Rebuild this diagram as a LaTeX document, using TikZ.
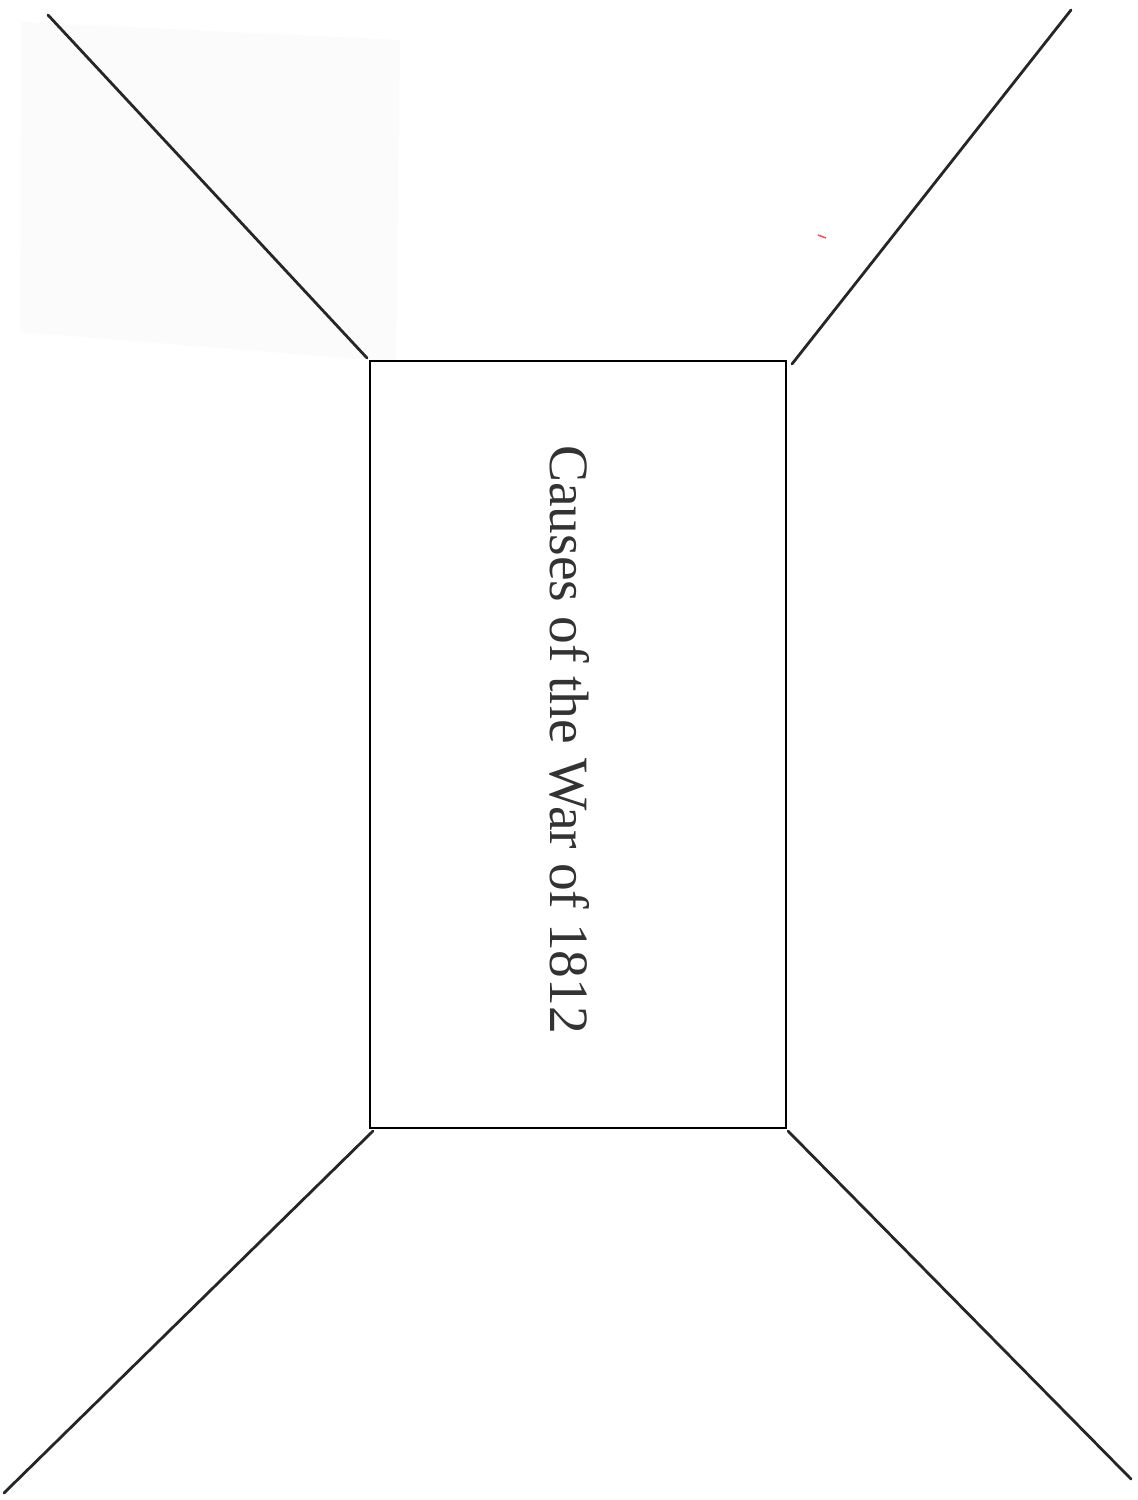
\documentclass[tikz,border=0pt]{standalone}
\usepackage{fontspec}
\setmainfont{Liberation Serif}
\begin{document}
\begin{tikzpicture}[x=1pt,y=-1pt,
  boxline/.style={draw=black, line width=2pt},
  wall/.style={draw=black!85, line width=2.8pt, line cap=round},
  title/.style={rotate=-90, anchor=base west, inner sep=0pt, text=black!80,
    font=\fontsize{55.5pt}{60pt}\selectfont}]
\useasboundingbox (0,0) rectangle (1138,1500);
% faint scanned patch
\fill[black!1.5] (22,22) -- (400,40) -- (396,362) -- (20,332) -- cycle;
% centre panel
\node[boxline, rectangle, inner sep=0pt, minimum width=416pt, minimum height=767pt] (box) at (577.5,744) {};
% wall edges
\coordinate (etl) at (48,15);
\coordinate (etr) at (1071,10);
\coordinate (ebl) at (4,1493);
\coordinate (ebr) at (1131,1479);
\coordinate (stl) at (367,358);
\coordinate (str) at (792,364);
\coordinate (sbl) at (373,1131);
\coordinate (sbr) at (788,1131);
\draw[wall] (etl) -- (stl);
\draw[wall] (etr) -- (str);
\draw[wall] (sbl) -- (ebl);
\draw[wall] (sbr) -- (ebr);
% small red mark
\coordinate (ra) at (818,235);
\coordinate (rb) at (826,238);
\draw[red!70, line width=1.5pt] (ra) -- (rb);
% title
\node[title] (t) at (550,445) {Causes of the War of 1812};
\end{tikzpicture}
\end{document}
